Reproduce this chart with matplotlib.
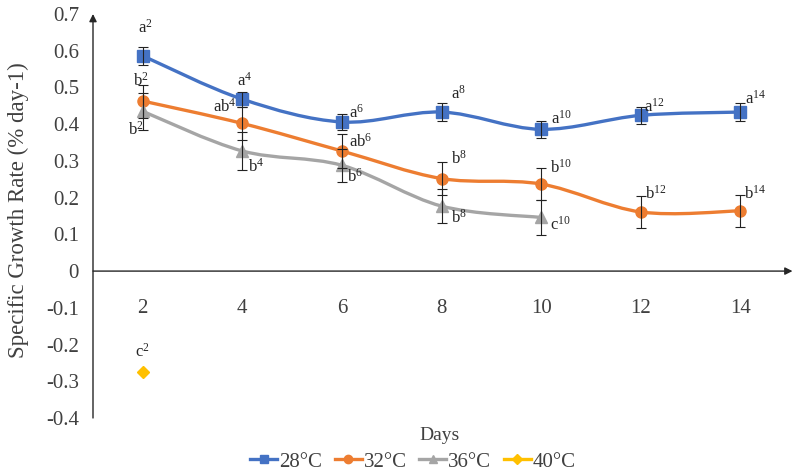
import numpy as np
import matplotlib.pyplot as plt
from matplotlib.path import Path
from matplotlib.patches import PathPatch
from matplotlib.lines import Line2D

plt.rcParams['font.family'] = 'Liberation Serif'
plt.rcParams['mathtext.fontset'] = 'custom'
plt.rcParams['mathtext.rm'] = 'Liberation Serif'
plt.rcParams['mathtext.it'] = 'Liberation Serif:italic'

# data
days = [2, 4, 6, 8, 10, 12, 14]
rate_28 = [0.586, 0.468, 0.406, 0.433, 0.386, 0.424, 0.433]
err_28 = [0.024, 0.02, 0.023, 0.025, 0.023, 0.024, 0.024]
rate_32 = [0.463, 0.402, 0.327, 0.252, 0.237, 0.161, 0.164]
err_32 = [0.045, 0.046, 0.045, 0.045, 0.043, 0.043, 0.043]
days_36 = [2, 4, 6, 8, 10]
rate_36 = [0.435, 0.327, 0.288, 0.177, 0.146]
err_36 = [0.05, 0.053, 0.045, 0.047, 0.048]
days_40 = [2]
rate_40 = [-0.276]

let_28 = ['a', 'a', 'a', 'a', 'a', 'a', 'a']
let_32 = ['b', 'ab', 'ab', 'b', 'b', 'b', 'b']
let_36 = ['b', 'b', 'b', 'b', 'c']
let_40 = ['c']

yticks = [-0.4, -0.3, -0.2, -0.1, 0, 0.1, 0.2, 0.3, 0.4, 0.5, 0.6, 0.7]
ytick_labels = ['-0.4', '-0.3', '-0.2', '-0.1', '0', '0.1', '0.2', '0.3', '0.4',
                '0.5', '0.6', '0.7']

# label offsets in pixels (dx, dy up)
off_28 = [(3, 28), (2, 18), (15, 9), (17, 18), (20, 11), (14, 9), (15, 13)]
off_32 = [(-2, 20), (-18, 17), (19, 9), (17, 20), (20, 16), (15, 18), (15, 17)]
off_36 = [(-7, -18), (14, -16), (13, -11), (17, -12), (19, -7)]
off_40 = [(0, 21)]

c28 = '#4472C4'
c32 = '#ED7D31'
c36 = '#A5A5A5'
c40 = '#FFC000'


def smooth_path(x, y):
    # Excel style smoothed line, bezier through the points
    x = np.asarray(x, float)
    y = np.asarray(y, float)
    n = len(x)
    verts = [(x[0], y[0])]
    codes = [Path.MOVETO]
    for i in range(n - 1):
        i0 = max(i - 1, 0)
        i3 = min(i + 2, n - 1)
        c1 = (x[i] + (x[i + 1] - x[i0]) / 6, y[i] + (y[i + 1] - y[i0]) / 6)
        c2 = (x[i + 1] - (x[i3] - x[i]) / 6, y[i + 1] - (y[i3] - y[i]) / 6)
        verts += [c1, c2, (x[i + 1], y[i + 1])]
        codes += [Path.CURVE4] * 3
    return Path(verts, codes)


fig = plt.figure(figsize=(8, 4.75), dpi=100)
ax = fig.add_axes([93 / 800, 1 - 418 / 475, (790 - 93) / 800, 404 / 475])
ax.set_xlim(1, 15)
ax.set_ylim(-0.4, 0.7)

series = [
    (days, rate_28, err_28, c28, 's', let_28, off_28, '28°C'),
    (days, rate_32, err_32, c32, 'o', let_32, off_32, '32°C'),
    (days_36, rate_36, err_36, c36, '^', let_36, off_36, '36°C'),
]
handles = []
for x, y, e, col, mk, lets, offs, name in series:
    ax.add_patch(PathPatch(smooth_path(x, y), fill=False, ec=col, lw=2.4, zorder=2))
    ax.errorbar(x, y, yerr=e, fmt='none', ecolor='#222222', elinewidth=0.8,
                capsize=3.5, capthick=0.8, zorder=4)
    ax.plot(x, y, ls='none', marker=mk, ms=8, color=col, zorder=3)
    for xi, yi, l, o in zip(x, y, lets, offs):
        ax.annotate(r'$\mathrm{%s}^{%d}$' % (l, xi), (xi, yi), xytext=o,
                    textcoords='offset pixels', ha='center', va='center',
                    fontsize=12, color='#262626', zorder=5)
    handles.append(Line2D([], [], color=col, lw=2.4, marker=mk, ms=6, label=name))

ax.plot(days_40, rate_40, ls='none', marker='D', ms=6.5, color=c40, zorder=3)
for xi, yi, l, o in zip(days_40, rate_40, let_40, off_40):
    ax.annotate(r'$\mathrm{%s}^{%d}$' % (l, xi), (xi, yi), xytext=o,
                textcoords='offset pixels', ha='center', va='center',
                fontsize=12, color='#262626')
handles.append(Line2D([], [], color=c40, lw=2.4, marker='D', ms=5, label='40°C'))

for s in ['top', 'right', 'left', 'bottom']:
    ax.spines[s].set_visible(False)
ax.spines['bottom'].set_position(('data', 0))
arrow = dict(arrowstyle='-|>', color='#262626', lw=1, mutation_scale=11,
             shrinkA=0, shrinkB=0)
ax.annotate('', xy=(15.05, 0), xytext=(1, 0), annotation_clip=False, arrowprops=arrow)
ax.annotate('', xy=(1, 0.7), xytext=(1, -0.4), annotation_clip=False, arrowprops=arrow)

ax.set_xticks(days)
ax.set_yticks(yticks)
ax.set_yticklabels(ytick_labels)
ax.tick_params(axis='both', length=0, labelsize=15, colors='#404040')
ax.tick_params(axis='y', pad=10)
ax.tick_params(axis='x', pad=20)

fig.text(18 / 800, 1 - 210 / 475, 'Specific Growth Rate (% day-1)', rotation=90,
         ha='center', va='center', fontsize=16.5, color='#404040')
fig.text(440 / 800, 1 - 435 / 475, 'Days', ha='center', va='center',
         fontsize=14, color='#404040')
fig.legend(handles=handles, loc='center', bbox_to_anchor=(413 / 800, 1 - 462 / 475),
           ncol=4, frameon=False, fontsize=15, handlelength=1.3, handletextpad=0.1,
           columnspacing=0.6, labelcolor='#404040')

fig.savefig('out.png', dpi=100)
